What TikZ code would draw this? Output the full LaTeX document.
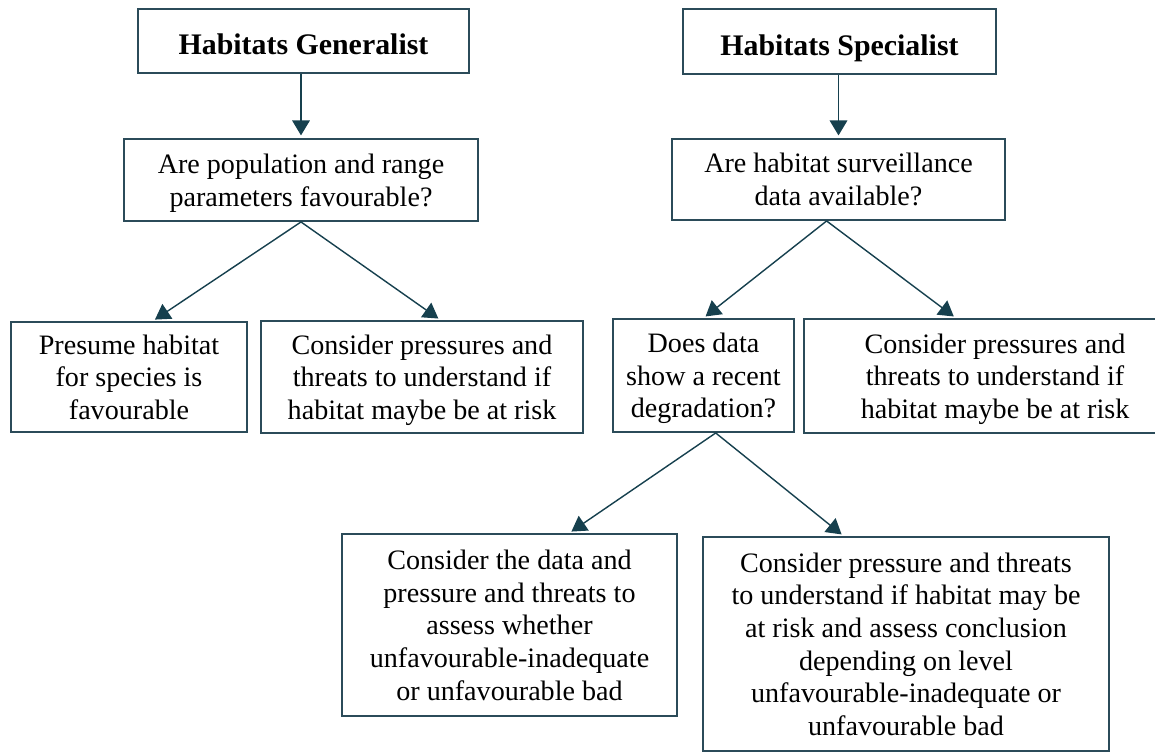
\documentclass[tikz,border=0pt]{standalone}
\usepackage{fontspec}
\setmainfont{Liberation Serif}
\usepackage{xcolor}
\usepackage{tikz}
\usetikzlibrary{arrows.meta}
\definecolor{boxline}{HTML}{2B4B59}
\definecolor{arrowc}{HTML}{16404E}

\begin{document}
\begin{tikzpicture}[x=0.02cm, y=-0.02cm,
    box/.style={draw=boxline, line width=1.1pt, fill=white, align=center, inner sep=0pt,
        text depth=0pt, font=\fontsize{16}{18.6}\selectfont},
    head/.style={box, text height=17pt, text depth=1.5pt, font=\bfseries\fontsize{17}{20}\selectfont},
    arr/.style={draw=arrowc, line width=0.8pt, -{Triangle[width=10pt,length=8.5pt]}, shorten >=1.5pt}]
    % Page area of the picture
    \useasboundingbox (0,0) rectangle (1155,751);
    \clip (0,0) rectangle (1155,751);

    % Top boxes
    \node[head, minimum width=6.62cm, minimum height=1.28cm] (gen) at (303.5,41) {Habitats Generalist};
    \node[head, minimum width=6.26cm, minimum height=1.30cm] (spec) at (839.5,41.5) {Habitats Specialist};

    % Questions
    \node[box, minimum width=7.08cm, minimum height=1.64cm] (pop) at (301,180)
        {Are population and range\\parameters favourable?};
    \node[box, minimum width=6.66cm, minimum height=1.62cm] (surv) at (838.5,179.5)
        {Are habitat surveillance\\data available?};

    % Second row
    \node[box, minimum width=4.72cm, minimum height=2.20cm] (presume) at (129,377)
        {Presume habitat\\for species is\\favourable};
    \node[box, minimum width=6.44cm, minimum height=2.24cm] (consL) at (422,377)
        {Consider pressures and\\threats to understand if\\habitat maybe be at risk};
    \node[box, minimum width=3.62cm, minimum height=2.26cm] (does) at (703.5,375.5)
        {Does data\\show a recent\\degradation?};
    \node[box, minimum width=7.64cm, minimum height=2.28cm] (consR) at (995,376)
        {Consider pressures and\\threats to understand if\\habitat maybe be at risk};

    % Bottom row
    \node[box, minimum width=6.70cm, minimum height=3.64cm] (dataB) at (509.5,625)
        {Consider the data and\\pressure and threats to\\assess whether\\unfavourable-inadequate\\or unfavourable bad};
    \node[box, minimum width=8.12cm, minimum height=4.28cm] (pressB) at (906,644)
        {Consider pressure and threats\\to understand if habitat may be\\at risk and assess conclusion\\depending on level\\unfavourable-inadequate or\\unfavourable bad};

    % Connectors
    \draw[arr] (gen.south -| pop.north) -- (pop.north);
    \draw[arr] (spec.south -| surv.north) -- (surv.north);
    \draw[arr] (pop.south) -- (presume.67);
    \draw[arr] (pop.south) -- (consL.72);
    \draw[arr] (surv.254) -- (does.north);
    \draw[arr] (surv.254) -- (consR.124);
    \draw[arr] (does.282) -- (dataB.57);
    \draw[arr] (does.282) -- (pressB.120);

\end{tikzpicture}
\end{document}
